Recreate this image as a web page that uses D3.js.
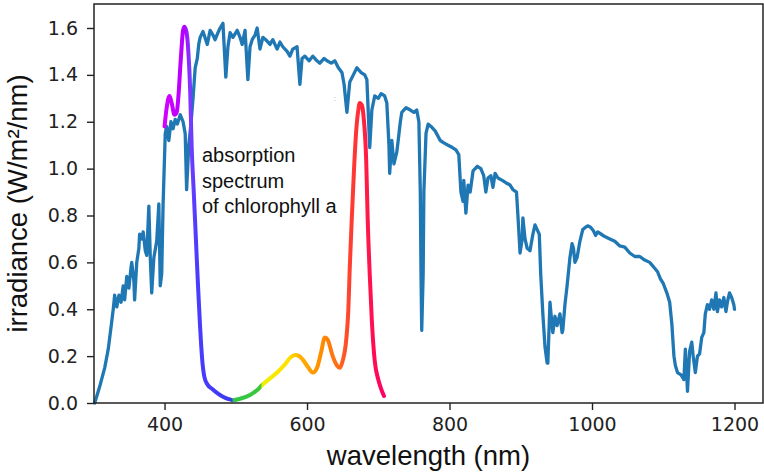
<!DOCTYPE html>
<html>
<head>
<meta charset="utf-8">
<script src="https://cdn.jsdelivr.net/npm/d3@7"></script>
<style>
  html, body { margin: 0; padding: 0; background: #fff; }
  svg { display: block; }
</style>
</head>
<body>
<svg id="chart" width="764" height="473"></svg>
<script>
// Solar spectral irradiance at ground level (nm, W/m²/nm)
const wavelength = [302,309,316,321,326,328,330,333,336,339,342,344,347,350,353,354,357,358,361,364,
  365,368,370,373,375,378,380,382,385,389,392,394,396,398,401,403,406,409,412,415,
  418,422,426,429,431,434,437,440,443,446,448,450,454,460,464,468,471,475,478,482,
  486,489,492,496,502,506,509,513,517,520,523,527,530,534,538,542,548,552,558,562,
  566,572,576,580,586,590,593,597,603,608,614,618,624,628,634,639,644,649,652,656,
  660,665,670,676,681,684,688,691,695,700,704,709,712,715,716,719,722,726,731,733,
  739,745,750,754,757,759,760,761,763,764,767,770,774,780,787,792,798,804,809,813,
  816,819,820,823,826,829,833,839,844,848,851,854,858,861,864,868,874,879,885,889,
  894,896,899,902,903,906,909,913,917,920,923,926,928,931,934,937,938,941,944,945,
  948,951,955,958,959,962,965,969,972,974,976,979,983,987,991,994,998,1002,1005,1008,
  1013,1018,1025,1032,1039,1046,1053,1060,1067,1074,1081,1088,1092,1096,1100,1105,1109,1112,1115,1117,
  1120,1125,1129,1131,1133,1134,1137,1140,1142,1145,1148,1151,1154,1157,1159,1162,1165,1168,1171,1174,
  1176,1179,1182,1185,1188,1190,1193,1196,1199,1200];
const irradiance = [0.00,0.07,0.15,0.23,0.35,0.40,0.46,0.41,0.46,0.43,0.50,0.44,0.54,0.49,0.58,0.60,0.52,0.44,0.60,0.66,
  0.72,0.70,0.73,0.65,0.63,0.84,0.62,0.47,0.62,0.69,0.85,0.50,0.55,0.85,1.15,1.18,1.12,1.20,1.17,1.21,
  1.19,1.23,1.20,1.15,0.91,1.10,1.19,1.30,1.43,1.47,1.53,1.56,1.585,1.53,1.59,1.57,1.55,1.58,1.60,1.62,
  1.39,1.52,1.58,1.56,1.59,1.56,1.53,1.59,1.38,1.52,1.55,1.57,1.60,1.51,1.56,1.55,1.53,1.55,1.51,1.54,
  1.52,1.50,1.48,1.51,1.52,1.36,1.47,1.48,1.46,1.48,1.46,1.45,1.47,1.46,1.45,1.46,1.43,1.41,1.36,1.24,
  1.37,1.40,1.43,1.41,1.40,1.38,1.09,1.25,1.31,1.30,1.32,1.31,1.28,1.10,0.98,1.12,1.02,1.07,1.20,1.24,
  1.26,1.25,1.24,1.25,1.20,0.90,0.55,0.31,0.55,0.90,1.15,1.19,1.18,1.16,1.12,1.11,1.10,1.09,1.08,1.06,
  0.90,0.86,0.95,0.81,0.93,0.90,0.99,1.01,1.00,0.97,0.90,0.96,0.97,0.92,0.98,0.96,0.95,0.94,0.93,0.91,
  0.90,0.80,0.64,0.70,0.79,0.70,0.66,0.65,0.72,0.76,0.74,0.72,0.55,0.38,0.24,0.17,0.17,0.43,0.33,0.30,
  0.37,0.33,0.38,0.30,0.31,0.42,0.50,0.62,0.68,0.66,0.60,0.62,0.69,0.74,0.75,0.756,0.75,0.735,0.715,0.73,
  0.72,0.71,0.70,0.69,0.67,0.665,0.64,0.625,0.625,0.61,0.60,0.575,0.56,0.53,0.51,0.47,0.43,0.34,0.20,0.16,
  0.13,0.12,0.10,0.23,0.12,0.05,0.22,0.26,0.20,0.13,0.20,0.21,0.28,0.30,0.38,0.42,0.40,0.44,0.40,0.47,
  0.39,0.44,0.41,0.45,0.39,0.43,0.47,0.45,0.42,0.40];

// Absorption spectrum of chlorophyll a (scaled to the irradiance axis)
const chlWavelength = [400,403,407,410,414,417,420,422,424,426,428,431,433,436,438,441,444,447,450,453,
  456,460,467,475,482,489,496,506,520,530,537,548,558,569,577,583,589,594,601,608,
  614,620,625,629,636,642,646,650,655,658,660,663,666,669,672,674,677,680,683,685,
  688,691,695,700,704,708];
const chlAbsorption = [1.18,1.26,1.31,1.28,1.23,1.24,1.33,1.43,1.52,1.59,1.605,1.58,1.52,1.33,1.10,0.90,0.70,0.50,0.32,0.18,
  0.11,0.08,0.06,0.04,0.027,0.018,0.012,0.018,0.034,0.055,0.077,0.105,0.13,0.165,0.195,0.205,0.20,0.185,0.155,0.13,
  0.15,0.22,0.28,0.27,0.20,0.16,0.15,0.18,0.27,0.40,0.58,0.80,1.00,1.16,1.25,1.28,1.27,1.20,1.04,0.80,
  0.55,0.35,0.18,0.10,0.06,0.03];

// Colour of light at each wavelength along the absorption curve
const spectrumColors = [
  [400, "#d400ff"], [428, "#b400ff"], [436, "#7a3cff"], [445, "#4a3cff"], [495, "#3a3aee"],
  [496, "#30c848"], [535, "#3cc83c"], [537, "#eef000"], [575, "#ffe000"], [590, "#ffb000"],
  [620, "#ff8c00"], [645, "#ff6a1a"], [660, "#ff4030"], [675, "#ff2a3a"], [690, "#ff1050"],
  [708, "#ff0066"]
];

const xTicks = [400, 600, 800, 1000, 1200];
const yTicks = [0.0, 0.2, 0.4, 0.6, 0.8, 1.0, 1.2, 1.4, 1.6];

(function draw() {
  const svg = d3.select("#chart");
  const mLeft = 94, mRight = 763, mTop = 4, mBottom = 403;

  const x = d3.scaleLinear().domain([301, 1240]).range([mLeft, mRight]);
  const y = d3.scaleLinear().domain([0, 1.7024]).range([mBottom, mTop]);

  // Gradient running along the wavelength axis
  const defs = svg.append("defs");
  const x0 = x(chlWavelength[0]), x1 = x(chlWavelength[chlWavelength.length - 1]);
  const grad = defs.append("linearGradient")
    .attr("id", "spectrum")
    .attr("gradientUnits", "userSpaceOnUse")
    .attr("x1", x0).attr("x2", x1).attr("y1", 0).attr("y2", 0);
  grad.selectAll("stop").data(spectrumColors).join("stop")
    .attr("offset", d => (x(d[0]) - x0) / (x1 - x0))
    .attr("stop-color", d => d[1]);

  // Solar spectrum
  const solar = wavelength.map((w, i) => [w, irradiance[i]]);
  svg.append("path")
    .datum(solar)
    .attr("fill", "none")
    .attr("stroke", "#1f77b4")
    .attr("stroke-width", 3.3)
    .attr("stroke-linejoin", "round")
    .attr("stroke-linecap", "round")
    .attr("d", d3.line().x(d => x(d[0])).y(d => y(d[1])));

  // Chlorophyll a absorption
  const chl = chlWavelength.map((w, i) => [w, chlAbsorption[i]]);
  svg.append("path")
    .datum(chl)
    .attr("fill", "none")
    .attr("stroke", "url(#spectrum)")
    .attr("stroke-width", 4)
    .attr("stroke-linejoin", "round")
    .attr("stroke-linecap", "round")
    .attr("d", d3.line().curve(d3.curveMonotoneX).x(d => x(d[0])).y(d => y(d[1])));

  // Axes
  const tickFont = "'DejaVu Sans', sans-serif";
  const gx = svg.append("g")
    .attr("transform", `translate(0,${mBottom})`)
    .call(d3.axisBottom(x).tickValues(xTicks).tickSize(7).tickPadding(8).tickFormat(d3.format("d")));
  const gy = svg.append("g")
    .attr("transform", `translate(${mLeft},0)`)
    .call(d3.axisLeft(y).tickValues(yTicks).tickSize(7).tickPadding(9).tickFormat(d3.format(".1f")));
  [gx, gy].forEach(g => {
    g.select(".domain").remove();
    g.selectAll(".tick line").attr("stroke", "#222").attr("stroke-width", 1.4);
    g.selectAll(".tick text").attr("fill", "#222").style("font-family", tickFont).style("font-size", "19px");
  });

  // Frame
  svg.append("rect")
    .attr("x", mLeft).attr("y", mTop)
    .attr("width", mRight - mLeft).attr("height", mBottom - mTop)
    .attr("fill", "none").attr("stroke", "#222").attr("stroke-width", 1.5);

  // Axis labels
  const labelFont = "'Liberation Sans', Arial, sans-serif";
  svg.append("text")
    .attr("x", (mLeft + mRight) / 2).attr("y", 465)
    .attr("text-anchor", "middle")
    .style("font-family", labelFont).style("font-size", "27.5px").attr("fill", "#111")
    .text("wavelength (nm)");
  svg.append("text")
    .attr("transform", `translate(27,${(mTop + mBottom) / 2}) rotate(-90)`)
    .attr("text-anchor", "middle")
    .style("font-family", labelFont).style("font-size", "27.5px").attr("fill", "#111")
    .text("irradiance (W/m²/nm)");

  // Annotation
  const note = svg.append("text")
    .attr("x", 202).attr("y", 162)
    .style("font-family", labelFont).style("font-size", "20px").attr("fill", "#111");
  ["absorption", "spectrum", "of chlorophyll a"].forEach((t, i) => {
    note.append("tspan").attr("x", 202).attr("dy", i === 0 ? 0 : 25.5).text(t);
  });

  // small stray mark
  svg.append("text")
    .attr("x", x(639)).attr("y", y(1.29))
    .attr("text-anchor", "middle")
    .style("font-family", labelFont).style("font-size", "8px").attr("fill", "#999")
    .text(":");
})();
</script>
</body>
</html>
